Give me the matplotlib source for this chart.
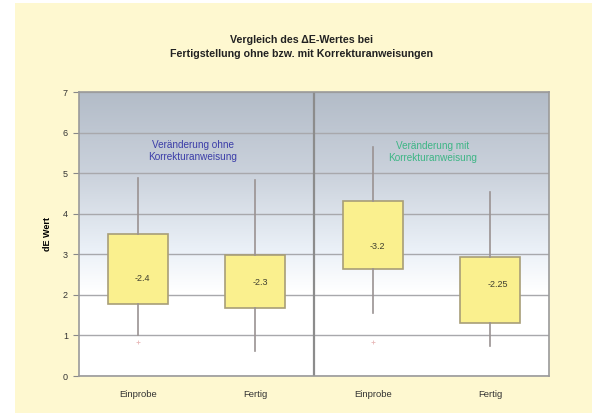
import matplotlib
matplotlib.use("Agg")
import matplotlib.pyplot as plt
import numpy as np
from matplotlib.patches import Rectangle
from matplotlib.colors import LinearSegmentedColormap

plt.rcParams['font.family'] = ['Liberation Sans', 'DejaVu Sans']

categories = ["Einprobe", "Fertig", "Einprobe", "Fertig"]
q1 = [1.77, 1.67, 2.64, 1.30]
q3 = [3.50, 2.98, 4.31, 2.93]
whisker_low = [1.00, 0.62, 1.55, 0.74]
whisker_high = [4.88, 4.83, 5.64, 4.53]
means = [2.4, 2.3, 3.2, 2.25]
mean_labels = ["-2.4", "-2.3", "-3.2", "-2.25"]
outliers = [[0.83], [], [0.83], []]
yticks = [0, 1, 2, 3, 4, 5, 6, 7]

fig = plt.figure(figsize=(5.92, 4.13), dpi=100)
fig.patch.set_facecolor("white")
fig.patches.append(Rectangle((15/592, 0), 1 - 15/592, 1 - 3/413,
                             transform=fig.transFigure, facecolor="#FEF8D0",
                             edgecolor="none", zorder=-10))

ax = fig.add_axes([79/592, 37/413, 470/592, 284/413])
ax.set_facecolor("none")

# background gradient
cmap = LinearSegmentedColormap.from_list(
    "bg", [(0.0, "#FFFFFF"), (0.30, "#FFFFFF"), (0.45, "#EAF0F7"),
           (0.70, "#CCD3DD"), (1.0, "#B3BCC8")])
grad = np.linspace(1, 0, 256).reshape(-1, 1)
ax.imshow(grad, extent=[-0.5, 3.5, 0, 7], aspect="auto", cmap=cmap,
          zorder=0, interpolation="bilinear", vmin=0, vmax=1)

# gridlines
for v in yticks:
    ax.axhline(v, color="#A8A8AC", lw=1.0, zorder=1)
ax.axvline(1.5, color="#8C8C8C", lw=1.6, zorder=1)

stats = []
for i in range(len(categories)):
    stats.append(dict(whislo=whisker_low[i], q1=q1[i], med=means[i],
                      q3=q3[i], whishi=whisker_high[i], fliers=outliers[i],
                      label=categories[i]))

positions = np.arange(len(categories))
ax.bxp(stats, positions=positions, widths=0.51, patch_artist=True,
       showfliers=True, showcaps=False, zorder=3,
       boxprops=dict(facecolor="#FAF08E", edgecolor="#A89E78", lw=1.2),
       whiskerprops=dict(color="#9A9292", lw=1.2),
       medianprops=dict(linestyle="none"),
       flierprops=dict(marker="+", markersize=3, markeredgecolor="#E8B8B8",
                       markeredgewidth=0.6))

for i in range(len(categories)):
    ax.text(positions[i] - 0.025, means[i], mean_labels[i], fontsize=6.5,
            color="#404030", ha="left", va="center", zorder=5)

ax.text(0.47, 5.54, "Veränderung ohne\nKorrekturanweisung", color="#3B3DA8",
        fontsize=7.2, ha="center", va="center", zorder=5, linespacing=1.3)
ax.text(2.51, 5.52, "Veränderung mit\nKorrekturanweisung", color="#3DB585",
        fontsize=7.2, ha="center", va="center", zorder=5, linespacing=1.3)

ax.set_xlim(-0.5, 3.5)
ax.set_ylim(0, 7)
ax.set_yticks(yticks)
ax.set_yticklabels([str(v) for v in yticks], fontsize=6.5, color="#333333")
ax.set_xticks(positions)
ax.set_xticklabels(categories, fontsize=6.8, color="#333333")
ax.tick_params(axis="y", length=4, width=0.8, color="#888888", pad=4)
ax.tick_params(axis="x", length=0, pad=10)
for s in ax.spines.values():
    s.set_color("#9A9A9A")
    s.set_linewidth(1.2)
ax.set_ylabel("dE Wert", fontsize=6.5, fontweight="bold", labelpad=8)

fig.text(301/592, 1 - 47/413,
         "Vergleich des \u0394E-Wertes bei\nFertigstellung ohne bzw. mit Korrekturanweisungen",
         ha="center", va="center", fontsize=7.7, fontweight="bold",
         color="#222222", linespacing=1.4)

fig.savefig("out.png", dpi=100, facecolor=fig.get_facecolor())
